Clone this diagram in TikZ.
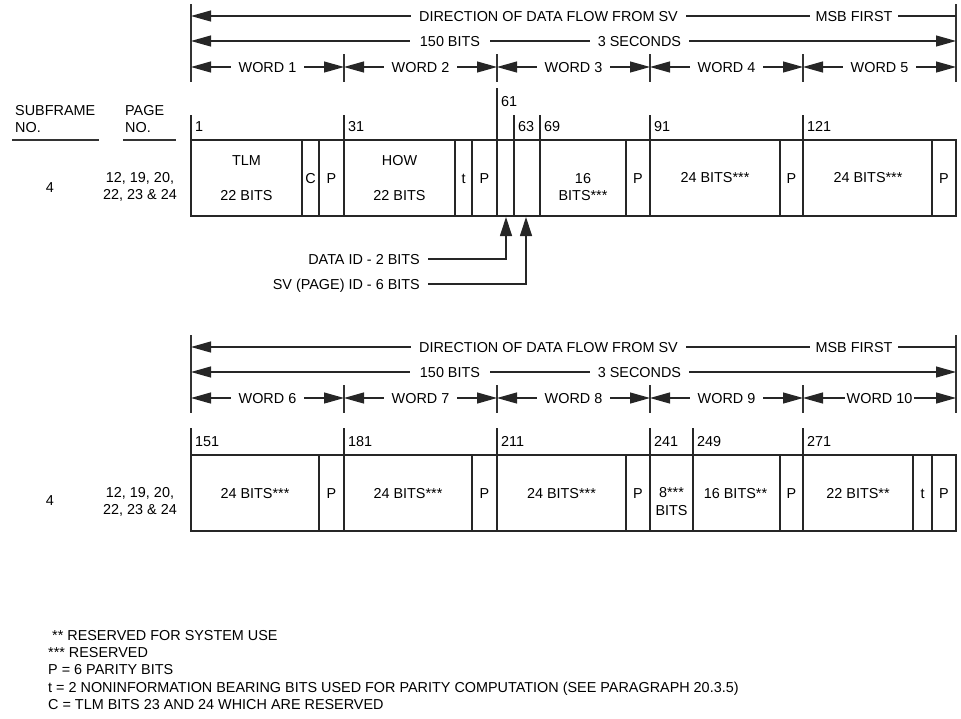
\documentclass[tikz,border=0pt]{standalone}
\usepackage{fontspec}
\setmainfont{Liberation Sans}
\usetikzlibrary{arrows.meta}
\begin{document}
\begin{tikzpicture}[x=1pt,y=-1pt,
  txt/.style={font=\fontsize{14.4}{17}\selectfont, text=black, inner sep=0pt, text height=10.3pt, text depth=0pt},
  gap/.style={txt, fill=white, inner xsep=8pt, inner ysep=3pt},
  dimline/.style={line width=1.2pt, draw=black!85},
  frame/.style={line width=1.5pt, draw=black!80},
  cell/.style={line width=1.6pt, draw=black!85},
  tip/.style={-{Triangle[length=20pt,width=11pt]}},
  tips/.style={{Triangle[length=20pt,width=11pt]}-{Triangle[length=20pt,width=11pt]}},
  two/.style={font=\fontsize{14.4}{17}\selectfont, text=black, inner sep=0pt, align=center},
  legend/.style={txt, anchor=west}
]
\useasboundingbox (0,0) rectangle (961,718);

% ---------------- column headings ----------------
\node[txt, anchor=west] (sfa) at (15,110) {SUBFRAME};
\node[txt, anchor=west] (sfb) at (15,127) {NO.};
\node[txt, anchor=west] (pga) at (125,110) {PAGE};
\node[txt, anchor=west] (pgb) at (125,127) {NO.};
\draw[frame] (12,140) -- (99,140);
\draw[frame] (123,140) -- (176,140);

% ================= words 1 to 5 =================
\draw[frame] (191,4) -- (191,82);
\draw[frame] (956,4) -- (956,82);
\foreach \x in {344,497,650,803} \draw[frame] (\x,54) -- (\x,82);
\draw[dimline, tip] (956,16) -- (191,16);
\node[gap] (dirA) at (548.5,16) {DIRECTION OF DATA FLOW FROM SV};
\node[gap, inner xsep=6pt] (msbA) at (854,16) {MSB FIRST};
\draw[dimline, tips] (191,41) -- (956,41);
\node[gap, inner xsep=10pt] (bitsA) at (450,41) {150 BITS};
\node[gap] (secA) at (639.5,41) {3 SECONDS};
\foreach \k [count=\i from 0] in {1,...,5} {
  \draw[dimline, tips] ({191+153*\i},67) -- ({344+153*\i},67);
  \node[gap] (wA\k) at ({267.5+153*\i},67) {WORD \k};
}

% bit position ticks
\foreach \x/\n in {191/1, 344/31, 514/63, 540/69, 650/91, 803/121} {
  \draw[cell] (\x,115) -- (\x,140);
  \node[txt, anchor=west] (bA\n) at (\x+4,126) {\n};
}
\draw[cell] (497,88) -- (497,140);
\node[txt, anchor=west] (bA61) at (501,101) {61};

% subframe record
\draw[cell] (191,140) rectangle (956,216);
\foreach \x in {302,319,344,455,472,497,514,540,626,650,780,803,932}
  \draw[cell] (\x,140) -- (\x,216);

\node[txt] (sfA) at (50,187) {4};
\node[two] (pgA) at (140,186.5) {12, 19, 20,\\22, 23 \& 24};
\node[txt] (tlm) at (246.5,160) {TLM};
\node[txt] (tlmb) at (246.5,195) {22 BITS};
\node[txt] (cA) at (310.5,178) {C};
\node[txt] (pA1) at (331.5,178) {P};
\node[txt] (how) at (399.5,160) {HOW};
\node[txt] (howb) at (399.5,195) {22 BITS};
\node[txt] (tA) at (463.5,178) {t};
\node[txt] (pA2) at (484.5,178) {P};
\node[txt] (w3a) at (583,178) {16};
\node[txt] (w3b) at (583,195) {BITS***};
\node[txt] (pA3) at (638,178) {P};
\node[txt] (w4) at (715,177) {24 BITS***};
\node[txt] (pA4) at (791.5,178) {P};
\node[txt] (w5) at (868,177) {24 BITS***};
\node[txt] (pA5) at (944,178) {P};

% identifier call-outs
\coordinate (didTip) at (506,217);
\coordinate (svidTip) at (526,217);
\node[txt, anchor=east] (did) at (420,259) {DATA ID - 2 BITS};
\node[txt, anchor=east] (svid) at (420,284) {SV (PAGE) ID - 6 BITS};
\draw[dimline, {Triangle[length=19pt,width=12pt]}-] (didTip) |- ([xshift=8pt]did.east);
\draw[dimline, {Triangle[length=19pt,width=12pt]}-] (svidTip) |- ([xshift=8pt]svid.east);

% ================= words 6 to 10 =================
\draw[frame] (191,335) -- (191,413);
\draw[frame] (956,335) -- (956,413);
\foreach \x in {344,497,650,803} \draw[frame] (\x,385) -- (\x,413);
\draw[dimline, tip] (956,347) -- (191,347);
\node[gap] (dirB) at (548.5,347) {DIRECTION OF DATA FLOW FROM SV};
\node[gap, inner xsep=6pt] (msbB) at (854,347) {MSB FIRST};
\draw[dimline, tips] (191,372) -- (956,372);
\node[gap, inner xsep=10pt] (bitsB) at (450,372) {150 BITS};
\node[gap] (secB) at (639.5,372) {3 SECONDS};
\foreach \k [count=\i from 0] in {6,...,9} {
  \draw[dimline, tips] ({191+153*\i},398) -- ({344+153*\i},398);
  \node[gap] (wB\k) at ({267.5+153*\i},398) {WORD \k};
}
\draw[dimline, tips] (803,398) -- (956,398);
\node[gap, inner xsep=2pt] (wB10) at (879.5,398) {WORD 10};

\foreach \x/\n in {191/151, 344/181, 497/211, 650/241, 693/249, 803/271} {
  \draw[cell] (\x,428) -- (\x,455);
  \node[txt, anchor=west] (bB\n) at (\x+4,441) {\n};
}

\draw[cell] (191,455) rectangle (956,531);
\foreach \x in {319,344,472,497,626,650,693,780,803,913,932}
  \draw[cell] (\x,455) -- (\x,531);

\node[txt] (sfB) at (50,500) {4};
\node[two] (pgB) at (140,501.5) {12, 19, 20,\\22, 23 \& 24};
\node[txt] (w6) at (255,493) {24 BITS***};
\node[txt] (pB1) at (331.5,493) {P};
\node[txt] (w7) at (408,493) {24 BITS***};
\node[txt] (pB2) at (484.5,493) {P};
\node[txt] (w8) at (561.5,493) {24 BITS***};
\node[txt] (pB3) at (638,493) {P};
\node[txt] (w9a) at (671.5,492) {8***};
\node[txt] (w9b) at (671.5,510) {BITS};
\node[txt] (w9c) at (735.5,493) {16 BITS**};
\node[txt] (pB4) at (791.5,493) {P};
\node[txt] (w10) at (858,493) {22 BITS**};
\node[txt] (tB) at (922.5,493) {t};
\node[txt] (pB5) at (944,493) {P};

% ---------------- legend ----------------
\node[legend] (n1) at (52,635) {** RESERVED FOR SYSTEM USE};
\node[legend] (n2) at (48,652) {*** RESERVED};
\node[legend] (n3) at (48,669) {P = 6 PARITY BITS};
\node[legend] (n4) at (48,687) {t = 2 NONINFORMATION BEARING BITS USED FOR PARITY COMPUTATION (SEE PARAGRAPH 20.3.5)};
\node[legend] (n5) at (48,704) {C = TLM BITS 23 AND 24 WHICH ARE RESERVED};
\end{tikzpicture}
\end{document}
